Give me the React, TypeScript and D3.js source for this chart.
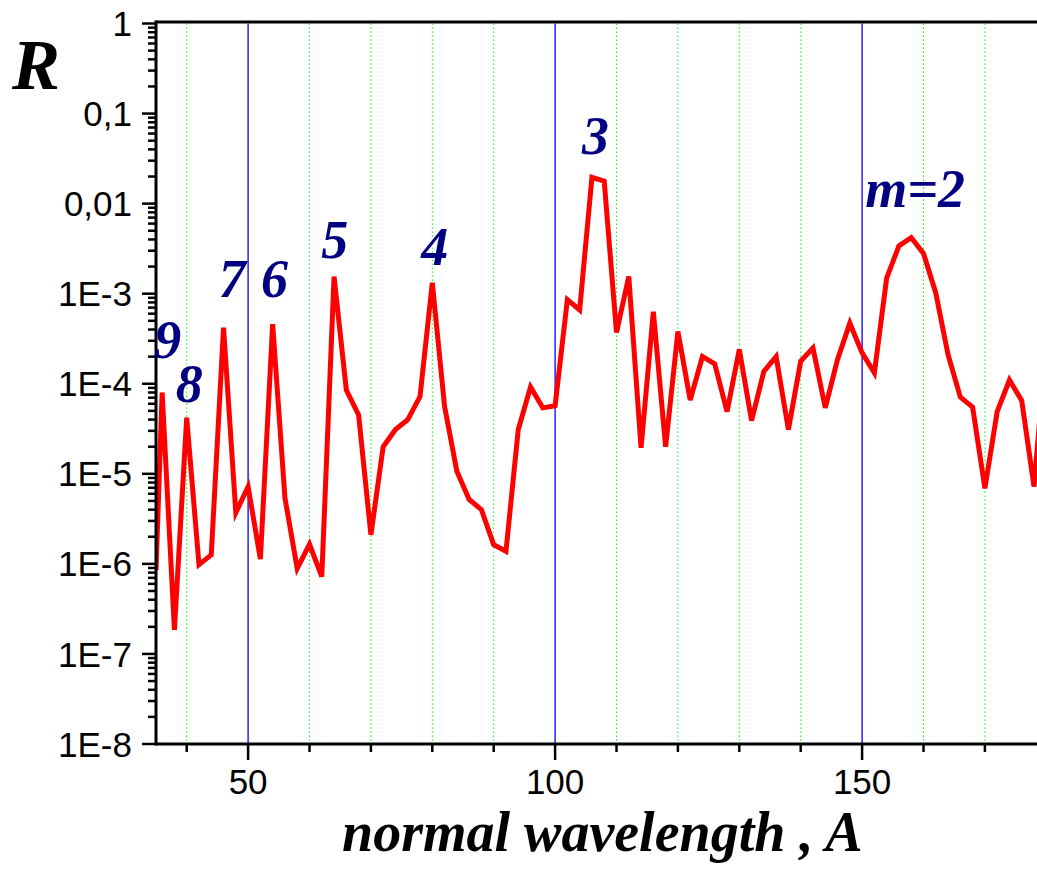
import React from "react";
import * as d3 from "d3";

// wavelength (A) and reflectivity
const wavelength = [
  35, 36, 38, 40, 42, 44, 46, 48, 50, 52, 54, 56, 58, 60, 62, 64, 66, 68, 70, 72,
  74, 76, 78, 80, 82, 84, 86, 88, 90, 92, 94, 96, 98, 100, 102, 104, 106, 108, 110,
  112, 114, 116, 118, 120, 122, 124, 126, 128, 130, 132, 134, 136, 138, 140, 142,
  144, 146, 148, 150, 152, 154, 156, 158, 160, 162, 164, 166, 168, 170, 172, 174,
  176, 178, 180,
];
const reflectivity = [
  8.5e-7, 8e-5, 1.85e-7, 4.2e-5, 9.8e-7, 1.26e-6, 4.2e-4, 3.7e-6, 7.2e-6, 1.13e-6,
  4.6e-4, 5.4e-6, 8.9e-7, 1.65e-6, 7.2e-7, 1.55e-3, 8.5e-5, 4.5e-5, 2.1e-6, 2.0e-5,
  3.1e-5, 4.0e-5, 7.2e-5, 1.32e-3, 5.6e-5, 1.07e-5, 5.2e-6, 4.0e-6, 1.63e-6, 1.38e-6,
  3.1e-5, 9.2e-5, 5.4e-5, 5.7e-5, 8.6e-4, 6.6e-4, 0.0196, 0.0178, 3.7e-4, 1.55e-3,
  1.94e-5, 6.3e-4, 2.0e-5, 3.8e-4, 6.6e-5, 2.0e-4, 1.66e-4, 4.9e-5, 2.4e-4, 3.9e-5,
  1.37e-4, 2.0e-4, 3.1e-5, 1.78e-4, 2.5e-4, 5.4e-5, 1.86e-4, 4.7e-4, 2.2e-4, 1.32e-4,
  1.49e-3, 3.4e-3, 4.2e-3, 2.8e-3, 1.02e-3, 2.1e-4, 7.1e-5, 5.5e-5, 6.9e-6, 4.9e-5,
  1.1e-4, 6.5e-5, 7.2e-6, 3.0e-4,
];

// diffraction order labels: text, wavelength, R at baseline
const orderLabels = ["9", "8", "7", "6", "5", "4", "3", "m=2"];
const orderX = [36.9, 40.4, 47.4, 54.3, 64.1, 80.4, 106.6, 150.5];
const orderR = [1.94e-4, 6.3e-5, 9.1e-4, 9.3e-4, 2.5e-3, 2.1e-3, 0.036, 9.1e-3];

const yTickValues = [1, 0.1, 0.01, 1e-3, 1e-4, 1e-5, 1e-6, 1e-7, 1e-8];
const yTickLabels = ["1", "0,1", "0,01", "1E-3", "1E-4", "1E-5", "1E-6", "1E-7", "1E-8"];
const xMajor = [50, 100, 150];
const xMinor = [40, 60, 70, 80, 90, 110, 120, 130, 140, 160, 170];

const width = 1037;
const height = 870;
const left = 156;
const top = 23.5;
const bottom = 744;

export default function App() {
  const x = d3.scaleLinear().domain([35, 180]).range([left, left + 145 * 6.14]);
  const y = d3.scaleLog().domain([1e-8, 1]).range([bottom, top]);

  const points = wavelength.map((w, i) => [w, reflectivity[i]] as [number, number]);
  const line = d3
    .line<[number, number]>()
    .x((d) => x(d[0]))
    .y((d) => y(d[1]));

  // minor log ticks 2..9 of each decade
  const yMinor: number[] = [];
  for (let e = -8; e < 0; e++) {
    for (let m = 2; m <= 9; m++) yMinor.push(m * Math.pow(10, e));
  }

  const serif = "'Liberation Serif', 'Times New Roman', serif";
  const sans = "'Liberation Sans', Arial, sans-serif";

  return (
    <svg width={width} height={height} style={{ position: "absolute", left: 0, top: 0 }}>
      <defs>
        <clipPath id="plot">
          <rect x={left} y={top} width={width - left} height={bottom - top} />
        </clipPath>
      </defs>
      <rect width={width} height={height} fill="white" />

      {/* grid */}
      {xMinor.map((v) => (
        <line
          key={"g" + v}
          x1={x(v)}
          x2={x(v)}
          y1={top}
          y2={bottom}
          stroke="#00ff00"
          strokeWidth={1}
          strokeDasharray="1.5,2.5"
        />
      ))}
      {xMajor.map((v) => (
        <line key={"b" + v} x1={x(v)} x2={x(v)} y1={top} y2={bottom} stroke="#0000ff" strokeWidth={1.3} />
      ))}

      <path
        d={line(points) || ""}
        fill="none"
        stroke="#ff0000"
        strokeWidth={5}
        strokeLinejoin="miter"
        clipPath="url(#plot)"
      />

      {/* frame */}
      <line x1={left} x2={width} y1={top - 1.5} y2={top - 1.5} stroke="black" strokeWidth={3} />
      <line x1={left} x2={width} y1={bottom} y2={bottom} stroke="black" strokeWidth={3} />
      <line x1={left} x2={left} y1={top - 3} y2={bottom + 1.5} stroke="black" strokeWidth={3} />

      {/* y ticks */}
      {yTickValues.map((v, i) => (
        <g key={"y" + i}>
          <line x1={left - 14} x2={left} y1={y(v)} y2={y(v)} stroke="black" strokeWidth={2.5} />
          <text
            x={132}
            y={y(v)}
            dy="0.36em"
            textAnchor="end"
            fontFamily={sans}
            fontSize={35}
            fill="black"
          >
            {yTickLabels[i]}
          </text>
        </g>
      ))}
      {yMinor.map((v, i) => (
        <line key={"ym" + i} x1={left - 8} x2={left} y1={y(v)} y2={y(v)} stroke="black" strokeWidth={2.5} />
      ))}

      {/* x ticks */}
      {xMajor.map((v) => (
        <g key={"x" + v}>
          <line x1={x(v)} x2={x(v)} y1={bottom} y2={bottom + 16} stroke="black" strokeWidth={2.5} />
          <text x={x(v)} y={794} textAnchor="middle" fontFamily={sans} fontSize={35} fill="black">
            {v}
          </text>
        </g>
      ))}
      {xMinor.map((v) => (
        <line key={"xm" + v} x1={x(v)} x2={x(v)} y1={bottom} y2={bottom + 8} stroke="black" strokeWidth={2.5} />
      ))}

      {/* order labels */}
      {orderLabels.map((t, i) => (
        <text
          key={"o" + i}
          x={x(orderX[i])}
          y={y(orderR[i])}
          textAnchor={i === orderLabels.length - 1 ? "start" : "middle"}
          fontFamily={serif}
          fontWeight="bold"
          fontStyle="italic"
          fontSize={54}
          fill="#000080"
        >
          {t}
        </text>
      ))}

      {/* axis titles */}
      <text x={12} y={89} fontFamily={serif} fontWeight="bold" fontStyle="italic" fontSize={72} fill="black">
        R
      </text>
      <text x={342} y={851} fontFamily={serif} fontWeight="bold" fontStyle="italic" fontSize={56} fill="black">
        normal wavelength , A
      </text>
    </svg>
  );
}
